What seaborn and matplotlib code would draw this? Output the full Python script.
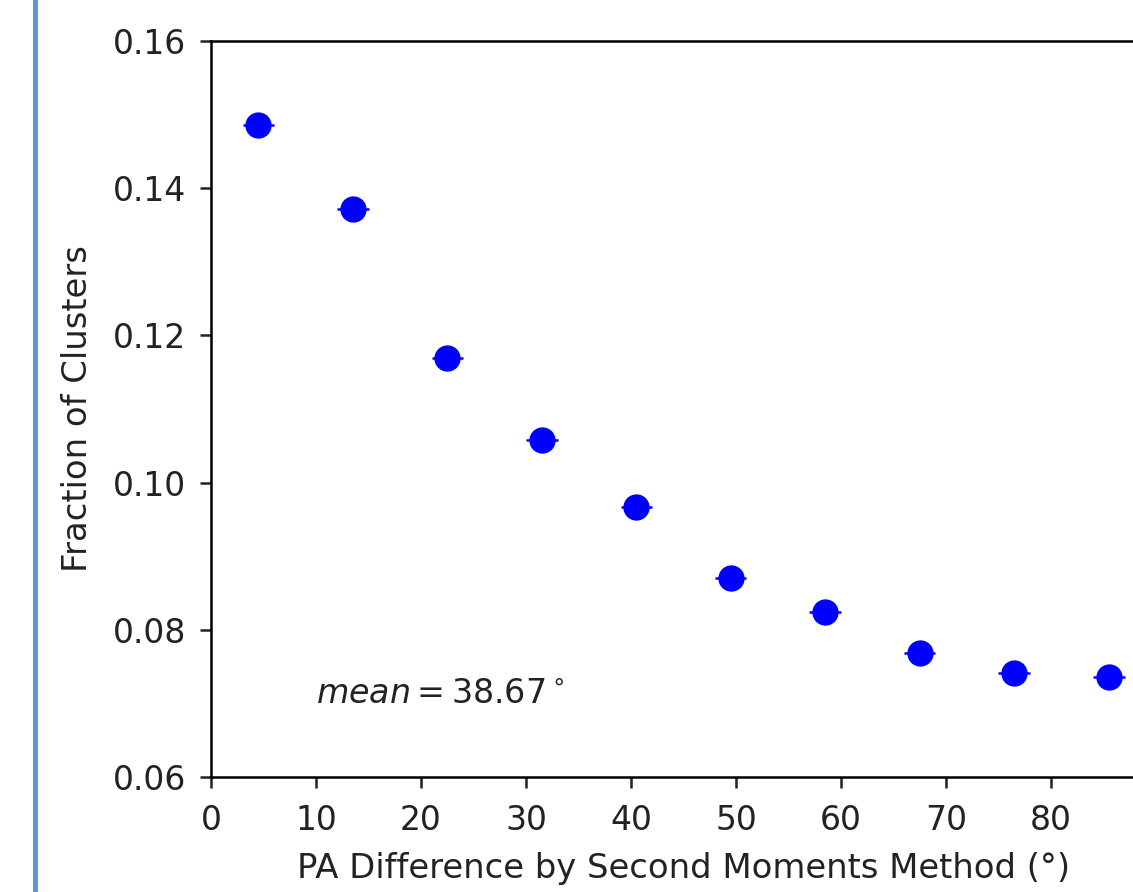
import matplotlib
matplotlib.use("Agg")
import matplotlib.pyplot as plt
import seaborn as sns
import pandas as pd
from matplotlib.patches import Rectangle

# Data
pa_diff = [4.5, 13.5, 22.5, 31.5, 40.5, 49.5, 58.5, 67.5, 76.5, 85.5]
fraction = [0.1486, 0.1372, 0.1169, 0.1058, 0.0967, 0.0870, 0.0824, 0.0768, 0.0741, 0.0736]
x_err = [1.5] * 10
mean_label = r"$mean = 38.67^\circ$"
x_ticks = [0, 10, 20, 30, 40, 50, 60, 70, 80]
y_ticks = [0.06, 0.08, 0.10, 0.12, 0.14, 0.16]

df = pd.DataFrame({"pa": pa_diff, "frac": fraction})

dpi = 226
fig = plt.figure(figsize=(1133 / dpi, 892 / dpi), dpi=dpi)
ax = fig.add_axes([211 / 1133, 1 - 777 / 892, (1156 - 211) / 1133, (777 - 41) / 892])

ax.errorbar(pa_diff, fraction, xerr=x_err, fmt="none", ecolor="blue", elinewidth=0.8, zorder=2)
sns.scatterplot(data=df, x="pa", y="frac", ax=ax, color="blue", s=62, edgecolor="blue",
                linewidth=0.5, zorder=3, legend=False)

ax.set_xlim(0, 90)
ax.set_ylim(0.06, 0.16)
ax.set_xticks(x_ticks)
ax.set_yticks(y_ticks)
ax.set_yticklabels([f"{v:.2f}" for v in y_ticks])
ax.tick_params(axis="both", labelsize=10.5, colors="#222222", labelcolor="#222222")
ax.tick_params(axis="x", pad=5)
ax.tick_params(axis="y", pad=4.5)
ax.set_xlabel("PA Difference by Second Moments Method (°)", fontsize=10.8, labelpad=5, color="#222222")
ax.set_ylabel("Fraction of Clusters", fontsize=10.8, labelpad=6, color="#222222")
ax.text(10, 0.07, mean_label, fontsize=10.6, color="#222222")

fig.add_artist(Rectangle((33 / 1133, 0), 5 / 1133, 1, transform=fig.transFigure,
                         facecolor="#5b9bd5", edgecolor="none"))

fig.savefig("out.png", dpi=dpi)
